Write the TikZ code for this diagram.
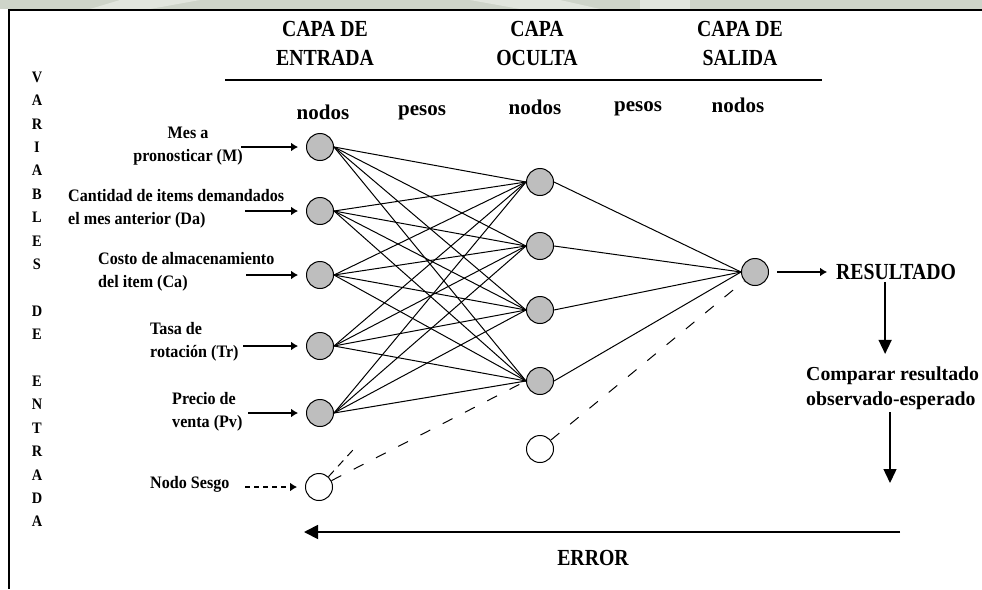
\documentclass[tikz,border=0pt]{standalone}
\usepackage{fontspec}
\setmainfont{Liberation Serif}
\newfontfamily\capfont[FakeStretch=0.86]{Liberation Serif}
\newfontfamily\lblfont[FakeStretch=0.92]{Liberation Serif}
\newfontfamily\vertfont[FakeStretch=0.9]{Liberation Serif}
\usetikzlibrary{arrows.meta,calc}
\definecolor{neurongray}{RGB}{190,190,190}
\definecolor{bandgray}{RGB}{206,212,201}
\definecolor{bandlight}{RGB}{226,230,222}

\begin{document}
\begin{tikzpicture}[x=1pt,y=-1pt,
  neuron/.style={circle,draw=black,line width=1pt,fill=neurongray,minimum size=27pt,inner sep=0pt},
  biasnode/.style={neuron,fill=white},
  layerhead/.style={font=\capfont\bfseries\fontsize{23}{29}\selectfont,align=center,inner sep=0pt},
  colhead/.style={font=\bfseries\fontsize{21}{24}\selectfont,inner sep=0pt},
  inlabel/.style={font=\lblfont\bfseries\fontsize{17.5}{23}\selectfont,inner sep=0pt},
  vletter/.style={font=\vertfont\bfseries\fontsize{16}{18}\selectfont,inner sep=0pt},
  bigword/.style={font=\capfont\bfseries\fontsize{23}{29}\selectfont,inner sep=0pt},
  notelabel/.style={font=\bfseries\fontsize{19.8}{25}\selectfont,align=left,inner sep=0pt},
  link/.style={line width=1pt},
  biaslink/.style={line width=1pt,dash pattern=on 11pt off 14pt},
  feed/.style={line width=1.4pt,-{Latex[length=7pt,width=9pt]},shorten >=8pt},
  biasfeed/.style={feed,dash pattern=on 5pt off 4pt},
  flow/.style={line width=1.4pt,-{Triangle[length=14pt,width=13pt]}},
]
\useasboundingbox (0,0) rectangle (982,589);
\clip (0,0) rectangle (982,589);

% faint band above the frame
\fill[bandgray] (0,0) rectangle (982,9);
\fill[bandlight] (120,0) -- (200,0) -- (150,9) -- (90,9) -- cycle;
\fill[bandlight] (470,0) -- (560,0) -- (600,9) -- (520,9) -- cycle;
\fill[bandlight] (640,0) rectangle (690,9);

% frame
\draw[line width=2pt] (8,10) -- (982,10);
\draw[line width=2pt] (9,9) -- (9,589);

% layer headings and rule
\node[layerhead] (hin)  at (325,43) {CAPA DE\\ENTRADA};
\node[layerhead] (hhid) at (537,43) {CAPA\\OCULTA};
\node[layerhead] (hout) at (740,43) {CAPA DE\\SALIDA};
\coordinate (ruleL) at (225,80);
\coordinate (ruleR) at (822,80);
\draw[line width=1.6pt] (ruleL) -- (ruleR);

\node[colhead] (c1) at (323,112) {nodos};
\node[colhead] (c2) at (422,113) {pesos};
\node[colhead] (c3) at (535,107) {nodos};
\node[colhead] (c4) at (638,109) {pesos};
\node[colhead] (c5) at (738,105) {nodos};

% vertical caption
\foreach \l [count=\k] in {V,A,R,I,A,B,L,E,S,{},D,E,{},E,N,T,R,A,D,A}
  \node[vletter] (v\k) at (37,{77+(\k-1)*23.4}) {\l};

% neurons
\node[neuron] (i1) at (320,147) {};
\node[neuron] (i2) at (320,211) {};
\node[neuron] (i3) at (320,275) {};
\node[neuron] (i4) at (320,346) {};
\node[neuron] (i5) at (320,413) {};
\node[biasnode] (ib) at (319,487) {};

\node[neuron] (h1) at (540,182) {};
\node[neuron] (h2) at (540,246) {};
\node[neuron] (h3) at (540,310) {};
\node[neuron] (h4) at (540,381) {};
\node[biasnode] (hb) at (540,449) {};

\node[neuron] (o) at (755,272) {};

% weights
\foreach \a in {1,...,5}
  \foreach \b in {1,...,4}
    \draw[link] (i\a.east) -- (h\b.west);
\foreach \b in {1,...,4}
  \draw[link] (h\b.east) -- (o.west);

\coordinate (ibstub) at ($(ib)!0.17!(h2)$);
\draw[line width=1pt,dash pattern=on 8pt off 6pt] (ib) -- (ibstub);
\draw[biaslink] (ib) -- (h4.west);
\draw[biaslink] (hb) -- (o);

% input variables
\node[inlabel,align=center] (l1) at (188,146) {Mes a\\pronosticar (M)};
\node[inlabel,align=left,anchor=west] (l2) at (68,209) {Cantidad de items demandados\\el mes anterior (Da)};
\node[inlabel,align=left,anchor=west] (l3) at (98,272) {Costo de almacenamiento\\del item (Ca)};
\node[inlabel,align=left,anchor=west] (l4) at (150,342) {Tasa de\\rotación (Tr)};
\node[inlabel,align=left,anchor=west] (l5) at (172,412) {Precio de\\venta (Pv)};
\node[inlabel,anchor=west] (lb) at (150,484) {Nodo Sesgo};

\coordinate (a1) at (241,147);
\coordinate (a2) at (245,211);
\coordinate (a3) at (246,275);
\coordinate (a4) at (243,346);
\coordinate (a5) at (248,413);
\coordinate (ab) at (245,487);
\foreach \k in {1,...,5}
  \draw[feed] (a\k) -- (i\k);
\draw[biasfeed] (ab) -- (ib);

% output side
\node[bigword,anchor=west] (res) at (836,272) {RESULTADO};
\draw[feed,shorten <=8pt,shorten >=9pt] (o) -- (res);
\draw[flow] ([xshift=-11pt,yshift=-2pt]res.south) -- ++(0,72);
\node[notelabel,anchor=west] (cmp) at (806,388) {Comparar resultado\\observado-esperado};
\coordinate (d2) at (890,412);
\draw[flow] (d2) -- ++(0,71);

% error feedback
\coordinate (e1) at (900,532);
\coordinate (e2) at (304,532);
\draw[line width=1.8pt,-{Triangle[length=14pt,width=14pt]}] (e1) -- (e2);
\node[bigword] (err) at (593,558) {ERROR};
\end{tikzpicture}
\end{document}
